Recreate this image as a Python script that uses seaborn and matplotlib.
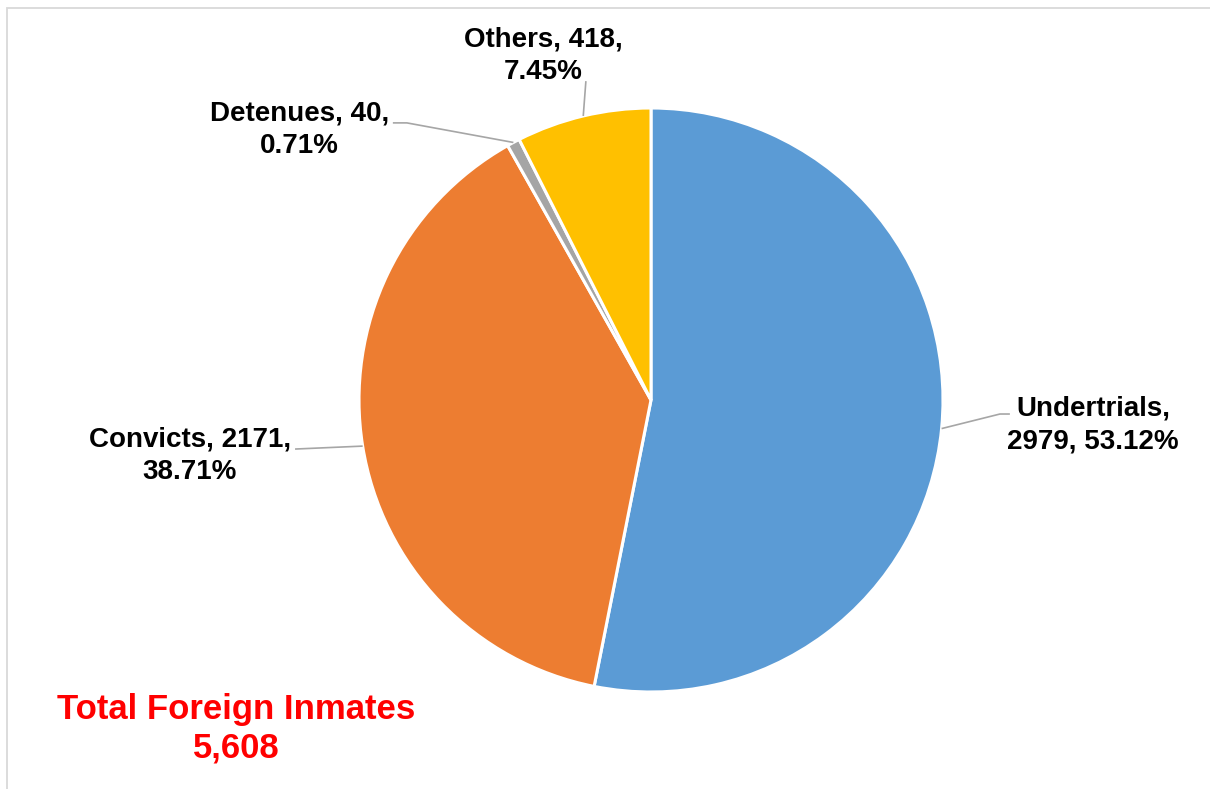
import numpy as np
import matplotlib
matplotlib.use("Agg")
import matplotlib.pyplot as plt
from matplotlib.patches import Rectangle
import seaborn as sns

# data
categories = ["Undertrials", "Convicts", "Detenues", "Others"]
counts = [2979, 2171, 40, 418]
colors = ["#5B9BD5", "#ED7D31", "#A5A5A5", "#FFC000"]
total_label = "Total Foreign Inmates"

# label placement (in pie-radius units) and leader end points
label_pos = {
    "Undertrials": (1.514, -0.086),
    "Convicts": (-1.579, -0.192),
    "Detenues": (-1.205, 0.925),
    "Others": (-0.370, 1.178),
}
leader_end = {
    "Undertrials": [(1.195, -0.048), (1.229, -0.048)],
    "Convicts": [(-1.219, -0.168)],
    "Detenues": [(-0.836, 0.949), (-0.884, 0.949)],
    "Others": [(-0.223, 1.092)],
}

sns.set_theme(style="white")
plt.rcParams["font.family"] = ["Liberation Sans", "DejaVu Sans"]

W, H = 1210, 789
fig = plt.figure(figsize=(W / 100, H / 100), dpi=100)
ax = fig.add_axes([0, 0, 1, 1])

total = sum(counts)
wedges, _ = ax.pie(counts, colors=sns.color_palette(colors), startangle=90,
                   counterclock=False, radius=1.0,
                   wedgeprops=dict(edgecolor="white", linewidth=2.2))

# pie center at (651, 400) px, radius 292 px
cx, cy, r = 651, 400, 292
ax.set_xlim(-cx / r, (W - cx) / r)
ax.set_ylim(-(H - cy) / r, cy / r)
ax.axis("off")

for w, cat, n in zip(wedges, categories, counts):
    mid = np.deg2rad((w.theta1 + w.theta2) / 2)
    x0, y0 = np.cos(mid), np.sin(mid)
    pts = [(x0, y0)] + leader_end[cat]
    ax.plot([p[0] for p in pts], [p[1] for p in pts], color="#A6A6A6", lw=1.2,
            solid_capstyle="butt")
    pct = 100 * n / total
    if cat == "Undertrials":
        txt = f"{cat},\n{n}, {pct:.2f}%"
    else:
        txt = f"{cat}, {n},\n{pct:.2f}%"
    lx, ly = label_pos[cat]
    ax.text(lx, ly, txt, ha="center", va="center", fontsize=20,
            fontweight="bold", color="black", linespacing=1.32)

fig.text(236 / W, 1 - 729 / H, f"{total_label}\n{total:,}", ha="center",
         va="center", fontsize=25, fontweight="bold", color="#FF0000",
         linespacing=1.2)

# chart frame (top and left edges visible)
fig.add_artist(Rectangle((7 / W, -0.1), 1.2, 1 - 8 / H + 0.1,
                         transform=fig.transFigure, fill=False,
                         edgecolor="#D9D9D9", lw=1.3))

fig.savefig("out.png", dpi=100)
